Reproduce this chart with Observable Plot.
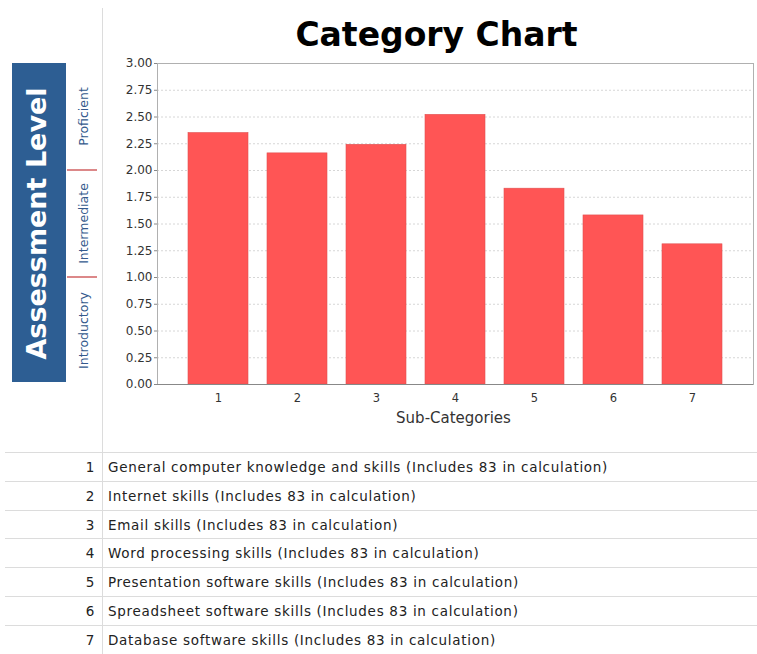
<!DOCTYPE html>
<html>
<head>
<meta charset="utf-8">
<script src="https://cdn.jsdelivr.net/npm/d3@7"></script>
<script src="https://cdn.jsdelivr.net/npm/@observablehq/plot@0.6"></script>
<style>
  html, body { margin: 0; padding: 0; background: #fff; }
  #wrap { position: relative; width: 757px; height: 654px; overflow: hidden; }
  #chart { position: absolute; left: 0; top: 0; }
  .vline { position: absolute; left: 102px; top: 8px; width: 1px; height: 646px; background: #dcdcdc; }
  .row { position: absolute; left: 5px; width: 752px; height: 28.7px; border-top: 1px solid #dcdcdc;
         font-family: "DejaVu Sans", Verdana, sans-serif; font-size: 13.5px; letter-spacing: 0.7px; color: #222; }
  .row .num { position: absolute; right: 662px; width: 40px; text-align: right; top: 6px; }
  .row .txt { position: absolute; left: 103px; top: 6px; white-space: nowrap; }
</style>
</head>
<body>
<div id="wrap">
  <div id="chart"></div>
  <div class="vline"></div>
  <div id="table"></div>
</div>
<script>
const categories = ["1", "2", "3", "4", "5", "6", "7"];
const values = [2.35, 2.16, 2.24, 2.52, 1.83, 1.58, 1.31];
const descriptions = [
  "General computer knowledge and skills (Includes 83 in calculation)",
  "Internet skills (Includes 83 in calculation)",
  "Email skills (Includes 83 in calculation)",
  "Word processing skills (Includes 83 in calculation)",
  "Presentation software skills (Includes 83 in calculation)",
  "Spreadsheet software skills (Includes 83 in calculation)",
  "Database software skills (Includes 83 in calculation)"
];
const yTicks = [0, 0.25, 0.5, 0.75, 1, 1.25, 1.5, 1.75, 2, 2.25, 2.5, 2.75, 3];
const levelNames = ["Introductory", "Intermediate", "Proficient"];
const levelFrom = [0, 1, 2];
const levelTo = [1, 2, 3];

const data = categories.map((c, i) => ({cat: c, value: values[i]}));
const levels = levelNames.map((n, i) => ({name: n, from: levelFrom[i], to: levelTo[i]}));

const font = "'DejaVu Sans', Verdana, sans-serif";

const plot = Plot.plot({
  width: 757,
  height: 440,
  marginLeft: 157,
  marginRight: 4,
  marginTop: 63,
  marginBottom: 56,
  style: {fontFamily: font, background: "#fff"},
  x: {type: "band", domain: categories, paddingInner: 0.245, paddingOuter: 0.36, label: null},
  y: {domain: [0, 3], label: null},
  marks: [
    Plot.gridY(yTicks, {stroke: "#d6d6d6", strokeOpacity: 1, strokeDasharray: "2,2"}),
    Plot.barY(data, {x: "cat", y: "value", fill: "#ff5555", stroke: "#e05050", strokeWidth: 0.6}),
    Plot.frame({stroke: "#b0b0b0"}),
    Plot.axisY({ticks: yTicks, tickFormat: d3.format(".2f"), tickSize: 3, tickPadding: 2,
      fontSize: 12, stroke: "#888", fill: "#333", label: null}),
    Plot.ruleX([0], {frameAnchor: "left", stroke: "#888"}),
    Plot.ruleY([0], {stroke: "#888"}),
    Plot.axisX({tickSize: 0, tickPadding: 9, fontSize: 11.5, fill: "#333", label: null}),
    Plot.text(["Sub-Categories"], {frameAnchor: "bottom", dy: 38, dx: -2, fontSize: 15, fill: "#333"}),
    Plot.text(["Category Chart"], {frameAnchor: "top", dy: -41, dx: -19, fontSize: 33, fontWeight: "bold",
      fill: "#000", fontFamily: "'DejaVu Sans', sans-serif"})
  ]
});
document.getElementById("chart").appendChild(plot);

// Left-side assessment level decorations, positioned from the y scale
const yS = plot.scale("y");
const svg = d3.select(plot);
const g = svg.append("g");
g.append("rect")
  .attr("x", 12).attr("width", 54)
  .attr("y", yS.apply(3)).attr("height", yS.apply(0) - yS.apply(3) - 2)
  .attr("fill", "#2d5e93");
g.append("text")
  .attr("transform", `translate(${38},${(yS.apply(0) + yS.apply(3)) / 2}) rotate(-90)`)
  .attr("text-anchor", "middle").attr("dominant-baseline", "middle")
  .attr("fill", "#fff").attr("font-family", "'DejaVu Sans', Verdana, sans-serif")
  .attr("font-weight", "bold").attr("font-size", 27)
  .text("Assessment Level");
levels.forEach(l => {
  g.append("text")
    .attr("transform", `translate(${84},${(yS.apply(l.from) + yS.apply(l.to)) / 2}) rotate(-90)`)
    .attr("text-anchor", "middle").attr("dominant-baseline", "middle")
    .attr("fill", "#33598c").attr("font-family", "'DejaVu Sans', Tahoma, sans-serif")
    .attr("font-size", 12.5)
    .text(l.name);
});
levelFrom.filter(v => v > 0).forEach(v => {
  g.append("line")
    .attr("x1", 67).attr("x2", 97)
    .attr("y1", yS.apply(v)).attr("y2", yS.apply(v))
    .attr("stroke", "#c9484a").attr("stroke-width", 1.3);
});

// Description table
const table = document.getElementById("table");
categories.forEach((c, i) => {
  const row = document.createElement("div");
  row.className = "row";
  row.style.top = (452 + i * 28.8) + "px";
  row.innerHTML = `<span class="num">${c}</span><span class="txt">${descriptions[i]}</span>`;
  table.appendChild(row);
});
</script>
</body>
</html>
